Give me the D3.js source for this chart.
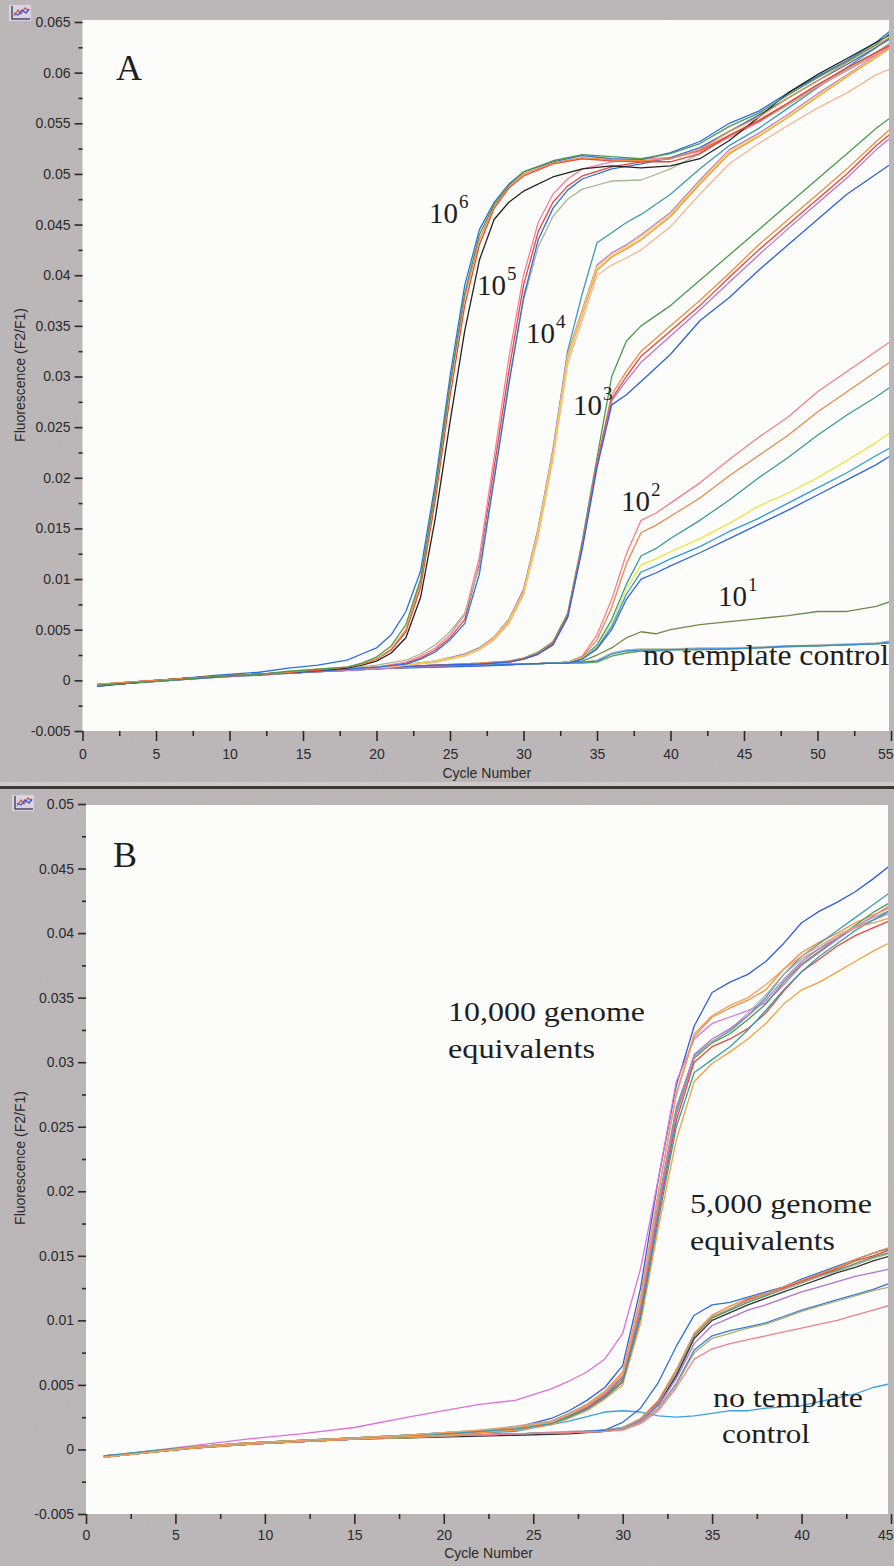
<!DOCTYPE html>
<html><head><meta charset="utf-8">
<script src="https://cdn.jsdelivr.net/npm/d3@7"></script>
<style>body{margin:0;background:#b9b4b5;}svg{display:block;}</style>
</head><body>
<script>
// ---------------- PANEL A DATA ----------------
const xTicksA = [0,5,10,15,20,25,30,35,40,45,50,55];
const yTicksA = [-0.005,0,0.005,0.01,0.015,0.02,0.025,0.03,0.035,0.04,0.045,0.05,0.055,0.06,0.065];

const cyclesA6 = [1,3,6,9,12,14,16,18,19,20,21,22,23,24,25,26,27,28,29,30,32,34,36,38,40,42,44,46,48,50,52,54,55];
const valuesA6 = [
 [-0.0006,-0.0003,0.0001,0.0005,0.0008,0.0012,0.0015,0.002,0.0026,0.0032,0.0045,0.0068,0.0108,0.0195,0.030,0.039,0.0445,0.0472,0.049,0.0502,0.0512,0.0518,0.0515,0.0514,0.0521,0.0532,0.0550,0.0562,0.0580,0.0596,0.0612,0.0630,0.0642],
 [-0.0005,-0.0003,0.0001,0.0004,0.0006,0.0008,0.0010,0.0012,0.0015,0.0019,0.0027,0.0042,0.0082,0.0160,0.0255,0.0345,0.0415,0.0455,0.0472,0.0483,0.0497,0.0505,0.0508,0.0506,0.0508,0.0515,0.0533,0.0556,0.0580,0.0598,0.0614,0.0630,0.0638],
 [-0.0005,-0.0002,0.0001,0.0004,0.0006,0.0008,0.0010,0.0013,0.0016,0.0021,0.0030,0.0048,0.0092,0.0178,0.0280,0.0370,0.0430,0.0466,0.0486,0.0498,0.0510,0.0515,0.0513,0.0512,0.0512,0.0520,0.0538,0.0552,0.0570,0.0588,0.0605,0.0620,0.0628],
 [-0.0004,-0.0002,0.0001,0.0004,0.0006,0.0008,0.0011,0.0013,0.0016,0.0021,0.0031,0.0050,0.0097,0.0185,0.0290,0.0378,0.0435,0.0468,0.0488,0.0500,0.0511,0.0516,0.0514,0.0513,0.0515,0.0524,0.0542,0.0556,0.0575,0.0592,0.0610,0.0627,0.0636],
 [-0.0005,-0.0003,0.0000,0.0004,0.0006,0.0009,0.0011,0.0013,0.0017,0.0023,0.0034,0.0055,0.0100,0.0188,0.0292,0.0382,0.0440,0.0470,0.0489,0.0502,0.0513,0.0519,0.0517,0.0515,0.0520,0.0530,0.0547,0.0560,0.0578,0.0595,0.0611,0.0628,0.0640]
];
const colorsA6 = ["#2f6fe0","#222222","#e8463a","#f08c3c","#4c9a50"];

const cyclesA5 = [1,3,6,9,12,15,18,20,22,23,24,25,26,27,28,29,30,31,32,33,34,36,38,40,42,44,46,48,50,52,54,55];
const valuesA5 = [
 [-0.0005,-0.0003,0.0001,0.0004,0.0006,0.0008,0.0011,0.0013,0.0017,0.0022,0.0030,0.0042,0.0060,0.0115,0.0210,0.0305,0.0390,0.0443,0.0472,0.0488,0.0498,0.0507,0.0512,0.0515,0.0523,0.0538,0.0553,0.0570,0.0588,0.0603,0.0620,0.0628],
 [-0.0005,-0.0002,0.0001,0.0004,0.0006,0.0009,0.0011,0.0013,0.0018,0.0024,0.0032,0.0045,0.0065,0.0122,0.0220,0.0318,0.0400,0.0452,0.0480,0.0495,0.0505,0.0512,0.0515,0.0516,0.0522,0.0536,0.0551,0.0568,0.0586,0.0602,0.0618,0.0626],
 [-0.0004,-0.0002,0.0001,0.0004,0.0006,0.0009,0.0012,0.0015,0.0020,0.0026,0.0035,0.0048,0.0066,0.0112,0.0200,0.0295,0.0375,0.0428,0.0458,0.0475,0.0485,0.0493,0.0494,0.0505,0.0520,0.0537,0.0552,0.0568,0.0587,0.0603,0.0620,0.0630],
 [-0.0005,-0.0003,0.0000,0.0003,0.0006,0.0008,0.0011,0.0013,0.0016,0.0021,0.0028,0.0040,0.0056,0.0105,0.0198,0.0292,0.0378,0.0435,0.0466,0.0484,0.0495,0.0505,0.0510,0.0516,0.0526,0.0542,0.0558,0.0575,0.0592,0.0608,0.0625,0.0634]
];
const colorsA5 = ["#e8463a","#f47fa0","#a9b894","#2f6fe0"];

const cyclesA4 = [1,3,6,9,12,15,18,21,24,26,27,28,29,30,31,32,33,34,35,36,37,38,40,42,44,46,48,50,52,54,55];
const valuesA4 = [
 [-0.0005,-0.0003,0.0001,0.0004,0.0006,0.0008,0.0011,0.0014,0.0019,0.0026,0.0032,0.0042,0.0060,0.0088,0.0150,0.0226,0.0325,0.0382,0.0432,0.0442,0.0452,0.0460,0.0480,0.0505,0.0528,0.0545,0.0565,0.0585,0.0605,0.0625,0.0635],
 [-0.0005,-0.0003,0.0001,0.0004,0.0006,0.0008,0.0011,0.0014,0.0018,0.0025,0.0031,0.0041,0.0058,0.0086,0.0146,0.0222,0.0318,0.0362,0.0405,0.0418,0.0426,0.0435,0.0458,0.0490,0.0520,0.0537,0.0556,0.0576,0.0596,0.0615,0.0625],
 [-0.0004,-0.0002,0.0001,0.0004,0.0006,0.0009,0.0011,0.0014,0.0019,0.0026,0.0032,0.0043,0.0060,0.0090,0.0150,0.0228,0.0322,0.0366,0.0410,0.0422,0.0430,0.0440,0.0462,0.0494,0.0524,0.0540,0.0559,0.0579,0.0598,0.0617,0.0627],
 [-0.0005,-0.0003,0.0000,0.0003,0.0006,0.0008,0.0011,0.0013,0.0018,0.0024,0.0030,0.0040,0.0056,0.0084,0.0142,0.0218,0.0312,0.0356,0.0400,0.0410,0.0417,0.0425,0.0448,0.0480,0.0510,0.0530,0.0548,0.0565,0.0580,0.0598,0.0604],
 [-0.0005,-0.0003,0.0001,0.0004,0.0006,0.0008,0.0011,0.0014,0.0019,0.0025,0.0031,0.0042,0.0059,0.0087,0.0148,0.0224,0.0320,0.0364,0.0408,0.0420,0.0428,0.0438,0.0460,0.0492,0.0522,0.0538,0.0557,0.0577,0.0597,0.0616,0.0626]
];
const colorsA4 = ["#3a9cb0","#f08c3c","#c07ad8","#f7b48e","#f2d83a"];

const cyclesA3 = [1,3,6,9,12,15,18,21,24,27,29,30,31,32,33,34,35,36,37,38,40,42,44,46,48,50,52,54,55];
const valuesA3 = [
 [-0.0005,-0.0003,0.0001,0.0004,0.0006,0.0008,0.0011,0.0013,0.0015,0.0017,0.0019,0.0022,0.0028,0.0038,0.0066,0.0138,0.0220,0.0300,0.0335,0.0350,0.0370,0.0395,0.0420,0.0445,0.0470,0.0495,0.0520,0.0545,0.0556],
 [-0.0005,-0.0002,0.0001,0.0004,0.0006,0.0009,0.0011,0.0013,0.0015,0.0017,0.0019,0.0022,0.0027,0.0037,0.0064,0.0135,0.0216,0.0282,0.0305,0.0325,0.0350,0.0375,0.0402,0.0430,0.0455,0.0480,0.0505,0.0532,0.0545],
 [-0.0004,-0.0002,0.0001,0.0004,0.0006,0.0008,0.0011,0.0012,0.0014,0.0016,0.0018,0.0021,0.0026,0.0036,0.0063,0.0133,0.0214,0.0278,0.0300,0.0320,0.0345,0.0370,0.0398,0.0425,0.0450,0.0475,0.0500,0.0528,0.0540],
 [-0.0005,-0.0003,0.0000,0.0003,0.0006,0.0008,0.0010,0.0012,0.0014,0.0016,0.0018,0.0021,0.0026,0.0035,0.0062,0.0132,0.0212,0.0276,0.0296,0.0314,0.0340,0.0366,0.0393,0.0420,0.0446,0.0471,0.0496,0.0524,0.0536],
 [-0.0005,-0.0003,0.0001,0.0004,0.0006,0.0008,0.0011,0.0013,0.0015,0.0016,0.0018,0.0021,0.0026,0.0035,0.0062,0.0130,0.0210,0.0272,0.0282,0.0295,0.0322,0.0355,0.0378,0.0405,0.0430,0.0455,0.0480,0.0500,0.0510]
];
const colorsA3 = ["#4c9a50","#f08c3c","#e8463a","#b876d8","#2f62d8"];

const cyclesA2 = [1,3,6,9,12,15,18,21,24,27,30,32,33,34,35,36,37,38,39,40,42,44,46,48,50,52,54,55];
const valuesA2 = [
 [-0.0005,-0.0003,0.0001,0.0004,0.0006,0.0008,0.0011,0.0013,0.0014,0.0015,0.0016,0.0017,0.0018,0.0024,0.0045,0.0080,0.0125,0.0158,0.0165,0.0175,0.0195,0.0218,0.0240,0.0260,0.0285,0.0305,0.0325,0.0335],
 [-0.0005,-0.0002,0.0001,0.0004,0.0006,0.0008,0.0010,0.0012,0.0014,0.0015,0.0016,0.0017,0.0018,0.0023,0.0040,0.0072,0.0115,0.0146,0.0153,0.0162,0.0180,0.0202,0.0222,0.0242,0.0265,0.0285,0.0305,0.0315],
 [-0.0004,-0.0002,0.0001,0.0004,0.0006,0.0009,0.0011,0.0013,0.0014,0.0015,0.0016,0.0017,0.0018,0.0022,0.0035,0.0060,0.0095,0.0123,0.0130,0.0140,0.0158,0.0178,0.0200,0.0220,0.0242,0.0262,0.0280,0.0290],
 [-0.0005,-0.0003,0.0000,0.0003,0.0006,0.0008,0.0010,0.0012,0.0013,0.0015,0.0016,0.0017,0.0018,0.0022,0.0033,0.0056,0.0090,0.0114,0.0120,0.0127,0.0140,0.0155,0.0172,0.0185,0.0200,0.0217,0.0235,0.0245],
 [-0.0005,-0.0003,0.0001,0.0004,0.0006,0.0008,0.0011,0.0012,0.0014,0.0015,0.0016,0.0017,0.0017,0.0021,0.0032,0.0053,0.0085,0.0107,0.0113,0.0120,0.0132,0.0147,0.0160,0.0175,0.0190,0.0205,0.0222,0.0230],
 [-0.0006,-0.0003,0.0000,0.0003,0.0005,0.0008,0.0010,0.0012,0.0013,0.0014,0.0016,0.0017,0.0017,0.0021,0.0031,0.0050,0.0080,0.0100,0.0106,0.0113,0.0126,0.0140,0.0154,0.0168,0.0183,0.0198,0.0213,0.0222]
];
const colorsA2 = ["#f47f8c","#e8894a","#3a9a9a","#f2e23a","#2f9ae0","#3566dc"];

const cyclesA1 = [1,3,6,9,12,15,18,21,24,27,30,32,33,34,35,36,37,38,39,40,42,44,46,48,50,52,54,55];
const valuesA1 = [
 [-0.0005,-0.0003,0.0001,0.0004,0.0006,0.0008,0.0011,0.0012,0.0014,0.0015,0.0016,0.0017,0.0018,0.0019,0.0025,0.0032,0.0042,0.0048,0.0046,0.0050,0.0055,0.0058,0.0061,0.0064,0.0068,0.0068,0.0073,0.0078]
];
const colorsA1 = ["#6d8a4a"];

const cyclesA0 = [1,3,6,9,12,15,18,21,24,27,30,32,33,34,35,36,37,38,39,40,42,44,46,48,50,52,54,55];
const valuesA0 = [
 [-0.0005,-0.0003,0.0001,0.0004,0.0006,0.0008,0.0010,0.0012,0.0014,0.0015,0.0016,0.0017,0.0017,0.0018,0.0020,0.0027,0.0030,0.0031,0.0031,0.0031,0.0032,0.0032,0.0033,0.0034,0.0035,0.0036,0.0037,0.0039],
 [-0.0005,-0.0002,0.0001,0.0004,0.0006,0.0008,0.0011,0.0012,0.0014,0.0015,0.0016,0.0017,0.0017,0.0017,0.0018,0.0024,0.0027,0.0029,0.0029,0.0030,0.0030,0.0031,0.0032,0.0033,0.0034,0.0035,0.0036,0.0037],
 [-0.0004,-0.0002,0.0001,0.0004,0.0006,0.0008,0.0010,0.0012,0.0013,0.0015,0.0016,0.0017,0.0018,0.0018,0.0019,0.0026,0.0029,0.0030,0.0030,0.0030,0.0031,0.0031,0.0032,0.0034,0.0034,0.0035,0.0036,0.0038]
];
const colorsA0 = ["#b8b8a8","#5aa048","#2f8ae0"];

const labelsA = ["10","10","10","10","10","10","no template control"];
const supA = ["6","5","4","3","2","1",""];

// ---------------- PANEL B DATA ----------------
const xTicksB = [0,5,10,15,20,25,30,35,40,45];
const yTicksB = [-0.005,0,0.005,0.01,0.015,0.02,0.025,0.03,0.035,0.04,0.045,0.05];

const cyclesB10k = [1,3,6,9,12,15,18,20,22,24,26,27,28,29,30,31,32,33,34,35,36,37,38,39,40,41,42,43,44,45];
const valuesB10k = [
 [-0.0006,-0.0003,0.0002,0.0005,0.0007,0.0009,0.0011,0.0013,0.0014,0.0017,0.0024,0.0030,0.0038,0.0048,0.0065,0.0125,0.0210,0.0282,0.0328,0.0354,0.0362,0.0368,0.0378,0.0392,0.0408,0.0417,0.0424,0.0432,0.0442,0.0453],
 [-0.0005,-0.0002,0.0003,0.0008,0.0012,0.0017,0.0025,0.0030,0.0035,0.0038,0.0047,0.0053,0.0060,0.0070,0.0090,0.0140,0.0210,0.0285,0.0318,0.0330,0.0335,0.0340,0.0346,0.0360,0.0375,0.0385,0.0395,0.0405,0.0413,0.0422],
 [-0.0006,-0.0003,0.0002,0.0005,0.0007,0.0009,0.0011,0.0012,0.0014,0.0017,0.0022,0.0028,0.0035,0.0045,0.0060,0.0118,0.0200,0.0275,0.0320,0.0335,0.0342,0.0348,0.0356,0.0372,0.0385,0.0393,0.0400,0.0408,0.0414,0.0420],
 [-0.0005,-0.0003,0.0002,0.0004,0.0007,0.0009,0.0011,0.0013,0.0014,0.0016,0.0021,0.0027,0.0034,0.0043,0.0057,0.0112,0.0192,0.0265,0.0305,0.0316,0.0324,0.0336,0.0350,0.0368,0.0382,0.0392,0.0402,0.0412,0.0422,0.0432],
 [-0.0006,-0.0002,0.0002,0.0005,0.0007,0.0009,0.0010,0.0012,0.0014,0.0016,0.0021,0.0026,0.0033,0.0042,0.0055,0.0108,0.0186,0.0260,0.0303,0.0315,0.0322,0.0333,0.0345,0.0362,0.0376,0.0386,0.0396,0.0406,0.0416,0.0424],
 [-0.0005,-0.0003,0.0001,0.0004,0.0006,0.0008,0.0010,0.0012,0.0013,0.0015,0.0020,0.0025,0.0032,0.0041,0.0053,0.0104,0.0182,0.0255,0.0300,0.0312,0.0318,0.0326,0.0338,0.0355,0.0370,0.0380,0.0390,0.0398,0.0404,0.0410],
 [-0.0006,-0.0003,0.0002,0.0005,0.0007,0.0009,0.0011,0.0013,0.0015,0.0018,0.0022,0.0028,0.0034,0.0044,0.0058,0.0112,0.0190,0.0262,0.0304,0.0316,0.0325,0.0338,0.0352,0.0368,0.0380,0.0388,0.0398,0.0405,0.0412,0.0418],
 [-0.0005,-0.0003,0.0002,0.0004,0.0006,0.0008,0.0010,0.0012,0.0014,0.0016,0.0021,0.0027,0.0033,0.0043,0.0056,0.0110,0.0188,0.0262,0.0306,0.0318,0.0326,0.0336,0.0348,0.0364,0.0378,0.0388,0.0396,0.0404,0.0410,0.0416],
 [-0.0006,-0.0003,0.0001,0.0004,0.0006,0.0008,0.0010,0.0011,0.0013,0.0015,0.0019,0.0024,0.0030,0.0039,0.0050,0.0098,0.0172,0.0240,0.0285,0.0299,0.0308,0.0318,0.0330,0.0345,0.0356,0.0362,0.0370,0.0378,0.0386,0.0393],
 [-0.0005,-0.0002,0.0002,0.0005,0.0007,0.0009,0.0011,0.0012,0.0014,0.0016,0.0020,0.0025,0.0031,0.0040,0.0052,0.0102,0.0178,0.0250,0.0292,0.0302,0.0312,0.0325,0.0340,0.0356,0.0370,0.0382,0.0392,0.0402,0.0410,0.0418],
 [-0.0006,-0.0003,0.0002,0.0005,0.0007,0.0009,0.0011,0.0013,0.0015,0.0017,0.0021,0.0027,0.0034,0.0044,0.0058,0.0115,0.0198,0.0276,0.0322,0.0336,0.0344,0.0350,0.0360,0.0372,0.0382,0.0390,0.0398,0.0404,0.0408,0.0412]
];
const colorsB10k = ["#2f5fe0","#e070d8","#f08c3c","#3aa0b0","#4c9a50","#e8463a","#b0aaa0","#b876d8","#f0a040","#2fa0a8","#f4a060"];

const cyclesB5k = [1,3,6,9,12,15,18,21,24,27,29,30,31,32,33,34,35,36,37,38,39,40,41,42,43,44,45];
const valuesB5k = [
 [-0.0006,-0.0003,0.0002,0.0004,0.0006,0.0008,0.0010,0.0011,0.0012,0.0013,0.0015,0.0021,0.0032,0.0052,0.0080,0.0104,0.0112,0.0114,0.0118,0.0122,0.0126,0.0132,0.0137,0.0142,0.0147,0.0152,0.0156],
 [-0.0005,-0.0003,0.0002,0.0004,0.0006,0.0008,0.0010,0.0011,0.0012,0.0013,0.0015,0.0017,0.0024,0.0038,0.0062,0.0090,0.0104,0.0111,0.0117,0.0121,0.0126,0.0131,0.0136,0.0141,0.0147,0.0152,0.0157],
 [-0.0006,-0.0003,0.0001,0.0004,0.0006,0.0008,0.0009,0.0011,0.0012,0.0013,0.0014,0.0017,0.0023,0.0037,0.0060,0.0088,0.0102,0.0109,0.0116,0.0120,0.0125,0.0130,0.0135,0.0140,0.0146,0.0150,0.0155],
 [-0.0005,-0.0003,0.0002,0.0004,0.0006,0.0008,0.0010,0.0011,0.0012,0.0013,0.0015,0.0016,0.0023,0.0036,0.0059,0.0088,0.0102,0.0108,0.0114,0.0119,0.0124,0.0129,0.0134,0.0139,0.0144,0.0149,0.0153],
 [-0.0006,-0.0003,0.0001,0.0004,0.0006,0.0008,0.0009,0.0010,0.0011,0.0012,0.0014,0.0016,0.0022,0.0035,0.0057,0.0086,0.0100,0.0106,0.0112,0.0117,0.0122,0.0127,0.0132,0.0137,0.0141,0.0146,0.0150],
 [-0.0005,-0.0003,0.0002,0.0004,0.0006,0.0008,0.0010,0.0011,0.0012,0.0014,0.0015,0.0017,0.0023,0.0036,0.0060,0.0089,0.0103,0.0109,0.0115,0.0120,0.0124,0.0129,0.0134,0.0138,0.0143,0.0148,0.0152],
 [-0.0006,-0.0003,0.0001,0.0004,0.0006,0.0008,0.0010,0.0011,0.0012,0.0013,0.0014,0.0016,0.0022,0.0034,0.0055,0.0082,0.0096,0.0102,0.0108,0.0112,0.0117,0.0122,0.0126,0.0130,0.0134,0.0137,0.0140],
 [-0.0005,-0.0003,0.0002,0.0004,0.0006,0.0008,0.0010,0.0011,0.0012,0.0013,0.0015,0.0016,0.0021,0.0032,0.0051,0.0077,0.0088,0.0092,0.0095,0.0098,0.0103,0.0108,0.0112,0.0116,0.0120,0.0124,0.0129],
 [-0.0006,-0.0003,0.0001,0.0004,0.0006,0.0008,0.0009,0.0011,0.0012,0.0013,0.0014,0.0016,0.0021,0.0032,0.0050,0.0075,0.0086,0.0090,0.0094,0.0097,0.0102,0.0107,0.0111,0.0115,0.0119,0.0123,0.0126],
 [-0.0005,-0.0003,0.0002,0.0004,0.0006,0.0008,0.0010,0.0011,0.0012,0.0013,0.0014,0.0015,0.0020,0.0030,0.0048,0.0070,0.0078,0.0082,0.0085,0.0088,0.0091,0.0094,0.0097,0.0100,0.0104,0.0108,0.0112]
];
const colorsB5k = ["#2f6fe0","#f08c3c","#e8463a","#4c9a50","#333333","#a8a8a0","#b070d8","#3a78d8","#a8b070","#f47f8c"];

const cyclesB0 = [1,3,6,9,12,15,18,21,24,27,29,30,31,32,33,34,35,36,37,38,39,40,41,42,43,44,45];
const valuesB0 = [
 [-0.0006,-0.0003,0.0002,0.0004,0.0006,0.0008,0.0010,0.0012,0.0014,0.0022,0.0029,0.0030,0.0029,0.0026,0.0025,0.0026,0.0028,0.0030,0.0030,0.0032,0.0033,0.0034,0.0037,0.0040,0.0043,0.0048,0.0051]
];
const colorsB0 = ["#3aa0e8"];

const labelsB = ["10,000 genome","equivalents","5,000 genome","equivalents","no template","control"];

// ---------------- DRAWING ----------------
const W = 894, H = 1566;
const svg = d3.select("body").append("svg").attr("width", W).attr("height", H);

const defs = svg.append("defs");
const filt = defs.append("filter").attr("id","grain").attr("x",0).attr("y",0).attr("width","100%").attr("height","100%");
filt.append("feTurbulence").attr("type","fractalNoise").attr("baseFrequency",0.9).attr("numOctaves",1).attr("seed",3).attr("result","n");
filt.append("feColorMatrix").attr("in","n").attr("type","matrix")
  .attr("values","0 0 0 0 0.45  0 0 0 0 0.42  0 0 0 0 0.43  0 0 0 0.35 0").attr("result","c");
filt.append("feComposite").attr("in","c").attr("in2","SourceGraphic").attr("operator","in").attr("result","m");
filt.append("feMerge").call(m=>{m.append("feMergeNode").attr("in","SourceGraphic");m.append("feMergeNode").attr("in","m");});

svg.append("rect").attr("width",W).attr("height",H).attr("fill","#bdb8b9").attr("filter","url(#grain)");
svg.append("rect").attr("x",0).attr("y",782).attr("width",W).attr("height",4).attr("fill","#cfcaca");
svg.append("rect").attr("x",0).attr("y",786).attr("width",W).attr("height",3).attr("fill","#3b3838");

const fmt = d => d === 0 ? "0" : String(+d.toFixed(4));

function icon(x, y) {
  const g = svg.append("g").attr("transform", `translate(${x},${y})`);
  g.append("rect").attr("width",22).attr("height",16).attr("fill","#d8d4e0");
  g.append("path").attr("d","M3,1 V14 H21").attr("fill","none").attr("stroke","#4a4a6a").attr("stroke-width",1.5);
  g.append("path").attr("d","M5,11 L9,5 L12,9 L16,3 L20,6").attr("fill","none").attr("stroke","#e05040").attr("stroke-width",1.3);
  g.append("path").attr("d","M5,8 L9,10 L13,5 L17,8 L20,4").attr("fill","none").attr("stroke","#3a5ae0").attr("stroke-width",1.3);
}

function panel(cfg) {
  const x = d3.scaleLinear().domain(cfg.xDomain).range([cfg.left, cfg.right]);
  const y = d3.scaleLinear().domain(cfg.yDomain).range([cfg.bottom, cfg.top]);
  const id = "clip" + cfg.name;
  svg.append("clipPath").attr("id", id).append("rect")
     .attr("x", cfg.left).attr("y", cfg.plotTop).attr("width", cfg.plotRight - cfg.left).attr("height", cfg.bottom - cfg.plotTop);
  svg.append("rect").attr("x", cfg.left).attr("y", cfg.plotTop)
     .attr("width", cfg.plotRight - cfg.left).attr("height", cfg.bottom - cfg.plotTop).attr("fill", "#fcfcfb");

  const yMajor = cfg.yTicks;
  const yMinor = yMajor.slice(0, -1).map((v, i) => (v + yMajor[i + 1]) / 2);
  const xMajor = cfg.xTicks;
  const xMinor = xMajor.slice(0, -1).map((v, i) => (v + xMajor[i + 1]) / 2);

  const ga = svg.append("g").attr("transform", `translate(${cfg.left},0)`)
     .call(d3.axisLeft(y).tickValues(yMajor).tickFormat(fmt).tickSize(8).tickPadding(4));
  const gb = svg.append("g").attr("transform", `translate(${cfg.left},0)`)
     .call(d3.axisLeft(y).tickValues(yMinor).tickFormat("").tickSize(4));
  const gc = svg.append("g").attr("transform", `translate(0,${cfg.bottom})`)
     .call(d3.axisBottom(x).tickValues(xMajor).tickFormat(d3.format("d")).tickSize(10).tickPadding(cfg.xPad));
  const gd = svg.append("g").attr("transform", `translate(0,${cfg.bottom})`)
     .call(d3.axisBottom(x).tickValues(xMinor).tickFormat("").tickSize(5));
  [ga, gb, gc, gd].forEach(g => {
    g.select(".domain").remove();
    g.selectAll("line").attr("stroke", "#2a2a2a").attr("stroke-width", 1.6);
    g.selectAll("text").attr("fill", "#2a2a2a").style("font-family", "Liberation Sans, Arial, sans-serif").style("font-size", "14px");
  });
  // keep the last x tick label inside the picture edge
  gc.selectAll(".tick").filter(d => d === xMajor[xMajor.length - 1]).select("text")
    .attr("text-anchor", "end").attr("x", W - 1 - x(xMajor[xMajor.length - 1]));

  svg.append("text").attr("x", (cfg.left + cfg.right) / 2).attr("y", cfg.xTitleY).attr("text-anchor", "middle")
     .attr("fill", "#2a2a2a").style("font-family", "Liberation Sans, Arial, sans-serif").style("font-size", "14px")
     .text("Cycle Number");
  svg.append("text").attr("transform", `translate(${cfg.yTitleX},${cfg.yTitleY}) rotate(-90)`).attr("text-anchor", "middle")
     .attr("fill", "#2a2a2a").style("font-family", "Liberation Sans, Arial, sans-serif").style("font-size", "14px")
     .text("Fluorescence (F2/F1)");

  const line = d3.line().x(d => x(d[0])).y(d => y(d[1]));
  const gl = svg.append("g").attr("clip-path", `url(#${id})`);
  cfg.groups.forEach(gr => {
    gr.values.forEach((vals, i) => {
      const pts = gr.cycles.map((c, j) => [c, vals[j]]);
      gl.append("path").attr("d", line(pts)).attr("fill", "none")
        .attr("stroke", gr.colors[i % gr.colors.length]).attr("stroke-width", 1.3)
        .attr("stroke-linejoin", "round");
    });
  });
  return {x, y};
}

const serif = "Liberation Serif, Times New Roman, serif";

// Panel A
icon(9, 5);
panel({name:"A", xDomain:[0,55], yDomain:[-0.005,0.065], left:82.5, right:891, top:22, bottom:731,
  plotTop:20, plotRight:889, xTicks:xTicksA, yTicks:yTicksA, xPad:8, xTitleY:778, yTitleX:25, yTitleY:375,
  groups:[
    {cycles:cyclesA0, values:valuesA0, colors:colorsA0},
    {cycles:cyclesA1, values:valuesA1, colors:colorsA1},
    {cycles:cyclesA2, values:valuesA2, colors:colorsA2},
    {cycles:cyclesA3, values:valuesA3, colors:colorsA3},
    {cycles:cyclesA4, values:valuesA4, colors:colorsA4},
    {cycles:cyclesA5, values:valuesA5, colors:colorsA5},
    {cycles:cyclesA6, values:valuesA6, colors:colorsA6}
  ]});

svg.append("text").attr("x",116).attr("y",80).style("font-family",serif).style("font-size","36px").attr("fill","#1e1e1e").text("A");
const posA = [[429,223],[477,295],[526,343],[573,415],[621,511],[718,606]];
posA.forEach((p, i) => {
  const t = svg.append("text").attr("x", p[0]).attr("y", p[1]).style("font-family", serif).style("font-size", "29px").attr("fill", "#1e1e1e");
  t.append("tspan").text(labelsA[i]);
  t.append("tspan").attr("dy", -15).attr("dx", 1).style("font-size", "19px").text(supA[i]);
});
svg.append("text").attr("x",643).attr("y",665).style("font-family",serif).style("font-size","29px").attr("fill","#1e1e1e")
   .attr("textLength",246).attr("lengthAdjust","spacingAndGlyphs").text(labelsA[6]);

// Panel B
icon(12, 795);
panel({name:"B", xDomain:[0,45], yDomain:[-0.005,0.05], left:86, right:891, top:804, bottom:1514,
  plotTop:805, plotRight:888, xTicks:xTicksB, yTicks:yTicksB, xPad:6, xTitleY:1558, yTitleX:25, yTitleY:1158,
  groups:[
    {cycles:cyclesB0, values:valuesB0, colors:colorsB0},
    {cycles:cyclesB5k, values:valuesB5k, colors:colorsB5k},
    {cycles:cyclesB10k, values:valuesB10k, colors:colorsB10k}
  ]});

svg.append("text").attr("x",113).attr("y",867).style("font-family",serif).style("font-size","36px").attr("fill","#1e1e1e").text("B");
const posB = [[448,1021,197],[448,1058,147],[690,1213,182],[690,1250,145],[713,1407,150],[722,1443,88]];
posB.forEach((p, i) => {
  svg.append("text").attr("x", p[0]).attr("y", p[1]).style("font-family", serif).style("font-size", "28px").attr("fill", "#1e1e1e")
     .attr("textLength", p[2]).attr("lengthAdjust", "spacingAndGlyphs").text(labelsB[i]);
});
</script>
</body></html>
